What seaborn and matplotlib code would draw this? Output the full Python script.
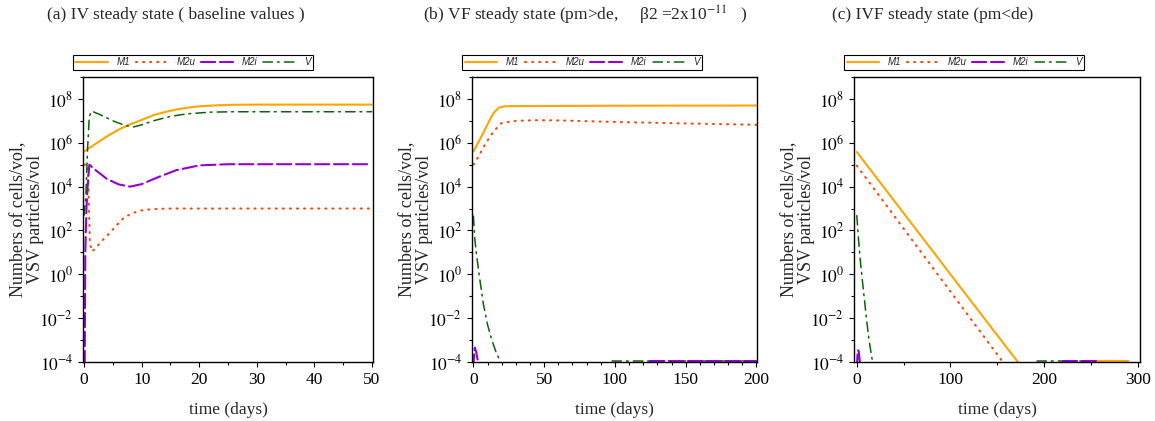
import numpy as np
import pandas as pd
import matplotlib
matplotlib.use("Agg")
import matplotlib.pyplot as plt
import seaborn as sns

# ─── Data (log-scale values) ─────────────────────────────────
# (a) IV steady state
a_m1_t = [0, 2, 4, 6, 8, 10, 12, 14, 16, 18, 20, 23, 26, 30, 50]
a_m1 = [4e5, 9e5, 2e6, 4e6, 7e6, 1.1e7, 1.8e7, 2.5e7, 3.3e7, 4e7, 4.6e7, 5.1e7, 5.4e7, 5.5e7, 5.5e7]
a_m2u_t = [0, 0.6, 0.8, 1.0, 1.4, 2, 3, 4.5, 6, 7, 8.5, 10, 12, 15, 50]
a_m2u = [1e5, 1e5, 3e3, 25, 11, 16, 32, 80, 220, 400, 630, 830, 950, 1e3, 1e3]
a_m2i_t = [0, 0.1, 0.2, 0.4, 0.6, 0.9, 2, 4, 6, 8, 10, 13, 16, 20, 25, 50]
a_m2i = [1e-5, 1e-4, 10, 1e3, 1e4, 1e5, 5.6e4, 2.2e4, 1.26e4, 1e4, 1.3e4, 2.8e4, 5.6e4, 9.3e4, 1.05e5, 1.05e5]
a_v_t = [0, 0.3, 0.6, 0.9, 1.3, 3, 5, 7, 8.5, 10, 12, 15, 18, 22, 26, 50]
a_v = [5e2, 4e3, 6e5, 1.6e7, 2.8e7, 1.8e7, 1e7, 6.3e6, 5.2e6, 6.6e6, 1e7, 1.6e7, 2.1e7, 2.5e7, 2.6e7, 2.6e7]

# (b) VF steady state
b_m1_t = [0, 5, 10, 14, 18, 22, 30, 100, 200]
b_m1 = [4e5, 1.6e6, 7e6, 2.2e7, 4e7, 4.6e7, 4.7e7, 4.9e7, 5e7]
b_m2u_t = [0, 3, 8, 14, 20, 30, 45, 60, 100, 150, 200]
b_m2u = [1e5, 2e5, 8e5, 3.2e6, 8e6, 1e7, 1.07e7, 1.05e7, 8.9e6, 7.6e6, 6.6e6]
b_m2i_t = [0, 0.5, 1, 2, 3, 4]
b_m2i = [5e-5, 2.5e-4, 4.5e-4, 2.8e-4, 1.26e-4, 5e-5]
b_v_t = [0, 1, 2, 4, 7, 10, 13, 16, 19.5]
b_v = [450, 40, 10, 1, 0.045, 5e-3, 1e-3, 2.8e-4, 9e-5]
b_m2i_tail_t = [125, 200]
b_m2i_tail = [1.08e-4, 1.08e-4]
b_v_tail_t = [98, 200]
b_v_tail = [1.08e-4, 1.08e-4]

# (c) IVF steady state
c_m1_t = [0, 100, 172]
c_m1 = [3.8e5, 1.0, 1e-4]
c_m2u_t = [0, 156]
c_m2u = [9e4, 1e-4]
c_m2i_t = [0, 1, 2, 3, 4.5]
c_m2i = [5e-5, 3.5e-4, 3.2e-4, 1.26e-4, 4e-5]
c_v_t = [0, 2, 4, 6, 10, 13, 17]
c_v = [480, 32, 3.2, 0.5, 0.0126, 1e-3, 9e-5]
c_m1_tail_t = [258, 290]
c_m1_tail = [1.08e-4, 1.08e-4]
c_m2i_tail_t = [220, 288]
c_m2i_tail = [1.08e-4, 1.08e-4]
c_v_tail_t = [192, 290]
c_v_tail = [1.08e-4, 1.08e-4]

titles = ["(a) IV steady state ( baseline values )",
          "(b) VF steady state (pm>de,     \u03b22 =2x10$^{-11}$   )",
          "(c) IVF steady state (pm<de)"]
labels = ["M1", "M2u", "M2i", "V"]

# ─── Style ───────────────────────────────────────────────────
sns.set_theme(style="ticks")
plt.rcParams.update({
    "font.family": ["Liberation Serif", "DejaVu Serif"],
    "mathtext.fontset": "stix",
    "axes.edgecolor": "black",
    "axes.linewidth": 1.0,
    "xtick.direction": "out",
    "ytick.direction": "out",
    "xtick.color": "black",
    "ytick.color": "black",
})

C_M1, C_M2U, C_M2I, C_V = "#FFA500", "#FF4500", "#9400D3", "#0A640A"
STYLES = {
    "M1": dict(color=C_M1, linewidth=1.5, linestyle="-"),
    "M2u": dict(color=C_M2U, linewidth=1.5, linestyle=(0, (0.5, 2.9))),
    "M2i": dict(color=C_M2I, linewidth=1.5, linestyle=(0, (6.8, 2.3))),
    "V": dict(color=C_V, linewidth=1.1, linestyle=(0, (6.2, 3.2, 1.2, 3.4))),
}

fig = plt.figure(figsize=(11.55, 4.21), dpi=100)
W, H = 1155, 421
boxes = [(83, 373), (472, 757), (854, 1140)]
top, bottom = 77, 362
axes = [fig.add_axes([l / W, 1 - bottom / H, (r - l) / W, (bottom - top) / H])
        for l, r in boxes]

panels = [
    {"M1": (a_m1_t, a_m1), "M2u": (a_m2u_t, a_m2u), "M2i": (a_m2i_t, a_m2i), "V": (a_v_t, a_v)},
    {"M1": (b_m1_t, b_m1), "M2u": (b_m2u_t, b_m2u), "M2i": (b_m2i_t, b_m2i), "V": (b_v_t, b_v)},
    {"M1": (c_m1_t, c_m1), "M2u": (c_m2u_t, c_m2u), "M2i": (c_m2i_t, c_m2i), "V": (c_v_t, c_v)},
]
tails = [
    [],
    [("V", b_v_tail_t, b_v_tail), ("M2i", b_m2i_tail_t, b_m2i_tail)],
    [("V", c_v_tail_t, c_v_tail), ("M2i", c_m2i_tail_t, c_m2i_tail),
     ("M1", c_m1_tail_t, c_m1_tail)],
]
xlims = [(-0.2, 50.2), (-1, 200.4), (-3, 302.5)]
xmajor = [np.arange(0, 51, 10), np.arange(0, 201, 50), np.arange(0, 301, 100)]
xminor = [np.arange(0, 51, 5), np.arange(0, 201, 10), np.arange(0, 301, 50)]
title_x = [47, 423, 832]

for i, ax in enumerate(axes):
    for name in labels:
        t, y = panels[i][name]
        df = pd.DataFrame({"t": t, "y": y})
        sns.lineplot(data=df, x="t", y="y", ax=ax, label=name, sort=False,
                     estimator=None, **STYLES[name])
    for name, t, y in tails[i]:
        df = pd.DataFrame({"t": t, "y": y})
        sns.lineplot(data=df, x="t", y="y", ax=ax, sort=False, estimator=None,
                     **STYLES[name])
    for ln in ax.get_lines():
        ln.set_dash_capstyle("round")
    ax.set_yscale("log")
    ax.set_ylim(1e-4, 1e9)
    ax.set_xlim(*xlims[i])
    ax.set_yticks([10.0 ** k for k in range(-4, 9, 2)])
    ax.set_yticklabels([f"$10^{{{k}}}$" for k in range(-4, 9, 2)])
    ax.set_yticks([10.0 ** k for k in range(-3, 10, 2)], minor=True)
    ax.set_xticks(xmajor[i])
    ax.set_xticks(xminor[i], minor=True)
    ax.tick_params(axis="both", which="major", labelsize=12.5, length=3.5, width=0.8)
    ax.tick_params(axis="both", which="minor", length=2.5, width=0.8)
    ax.tick_params(axis="y", which="minor", labelleft=False)
    for s in ax.spines.values():
        s.set_visible(True)
        s.set_color("black")
    ax.set_xlabel("time (days)", fontsize=12.5, labelpad=10)
    ax.set_ylabel("Numbers of cells/vol,\nVSV particles/vol", fontsize=13,
                  labelpad=-3, linespacing=1.0)

    handles, labs = ax.get_legend_handles_labels()
    leg = ax.legend(handles[:4], labs[:4], loc="lower left",
                    bbox_to_anchor=(-0.0345, 1.025), ncol=4, frameon=True,
                    fancybox=False, edgecolor="black", framealpha=1,
                    prop={"family": "Liberation Sans", "style": "italic", "size": 7},
                    handlelength=3.3, handletextpad=0.9, columnspacing=0.6,
                    borderpad=0.25, borderaxespad=0)
    leg.get_frame().set_linewidth(0.8)

    fig.text(title_x[i] / W, 1 - 15 / H, titles[i], ha="left", va="center",
             fontsize=12.5)

plt.savefig("out.png", dpi=100)
plt.close()
